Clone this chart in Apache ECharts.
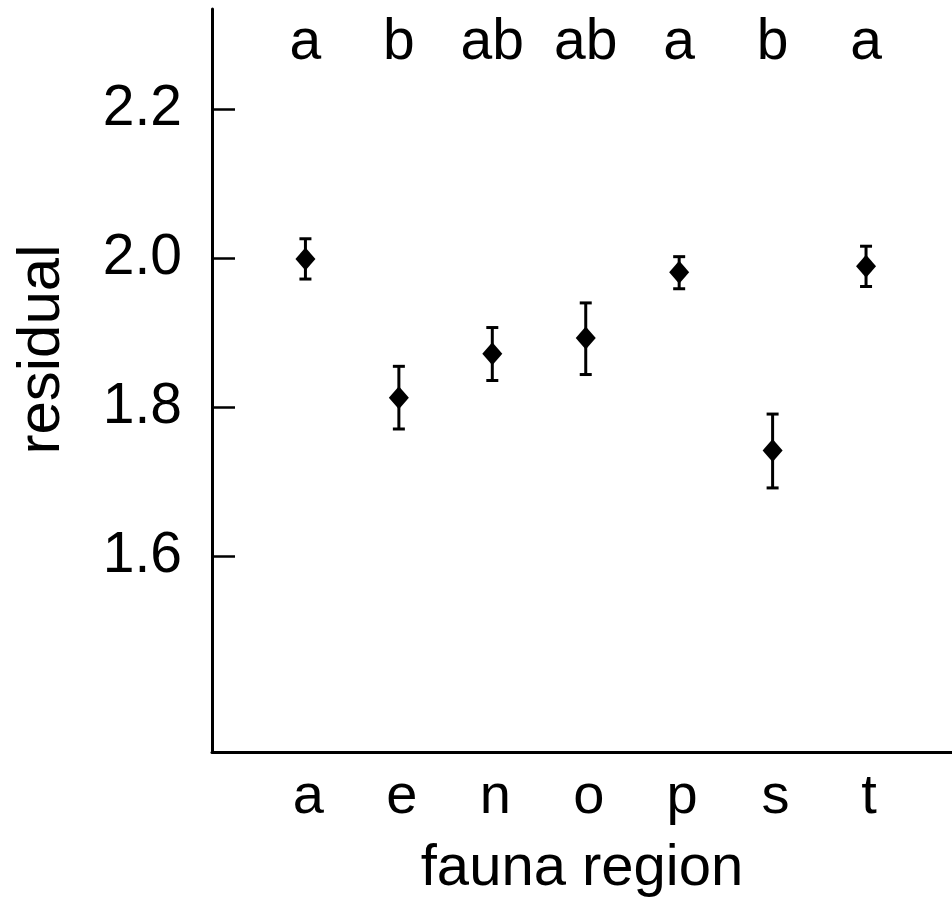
<!DOCTYPE html>
<html>
<head>
<meta charset="utf-8">
<script src="https://cdn.jsdelivr.net/npm/echarts@6/dist/echarts.min.js"></script>
<style>
  html, body { margin: 0; padding: 0; background: #fff; }
  #chart { width: 952px; height: 903px; }
</style>
</head>
<body>
<div id="chart"></div>
<script>
// Residual means per fauna region, with error bars and group letters
const categories   = ['a', 'e', 'n', 'o', 'p', 's', 't'];
const groupLetters = ['a', 'b', 'ab', 'ab', 'a', 'b', 'a'];
const means = [1.999, 1.813, 1.872, 1.893, 1.981, 1.742, 1.989];
const upper = [2.026, 1.855, 1.907, 1.940, 2.002, 1.791, 2.016];
const lower = [1.972, 1.771, 1.836, 1.844, 1.959, 1.692, 1.962];
const yTicks = [1.6, 1.8, 2.0, 2.2];

const FONT = 'Liberation Sans, Arial, sans-serif';
const positions = categories.map((c, i) => i + 1);

const chart = echarts.init(document.getElementById('chart'), null, { renderer: 'canvas' });

chart.setOption({
  animation: false,
  backgroundColor: '#fff',
  grid: { left: 212, right: 0, top: 9, bottom: 151 },
  xAxis: [
    {
      type: 'value',
      position: 'bottom',
      min: 0,
      max: 7.92,
      name: 'fauna region',
      nameLocation: 'middle',
      nameGap: 88,
      nameTextStyle: { fontFamily: FONT, fontSize: 58, color: '#000' },
      axisLine: { show: true, onZero: false, lineStyle: { color: '#000', width: 3 } },
      axisTick: { show: false },
      splitLine: { show: false },
      axisLabel: {
        customValues: positions,
        margin: 18,
        fontFamily: FONT,
        fontSize: 56,
        color: '#000',
        padding: [0, 0, 0, 6],
        formatter: v => categories[Math.round(v) - 1] || ''
      }
    },
    {
      type: 'value',
      position: 'top',
      min: 0,
      max: 7.92,
      axisLine: { show: false },
      axisTick: { show: false },
      splitLine: { show: false },
      axisLabel: {
        customValues: positions,
        inside: true,
        margin: 6,
        fontFamily: FONT,
        fontSize: 57,
        color: '#000',
        formatter: v => groupLetters[Math.round(v) - 1] || ''
      }
    }
  ],
  yAxis: {
    type: 'value',
    min: 1.338,
    max: 2.334,
    name: 'residual',
    nameLocation: 'middle',
    nameGap: 140,
    nameRotate: 90,
    nameTextStyle: { fontFamily: FONT, fontSize: 60, color: '#000', padding: [0, 0, 0, 62] },
    axisLine: { show: true, lineStyle: { color: '#000', width: 3 } },
    axisTick: {
      show: true,
      inside: true,
      length: 23,
      customValues: yTicks,
      lineStyle: { color: '#000', width: 2.5 }
    },
    splitLine: { show: false },
    axisLabel: {
      customValues: yTicks,
      margin: 30,
      fontFamily: FONT,
      fontSize: 57,
      color: '#000',
      formatter: v => v.toFixed(1)
    }
  },
  series: [
    {
      type: 'custom',
      xAxisIndex: 0,
      renderItem: (params, api) => {
        const x = api.value(0);
        const pLo = api.coord([x, api.value(1)]);
        const pHi = api.coord([x, api.value(2)]);
        const cap = 6;
        const style = { stroke: '#000', lineWidth: 3 };
        return {
          type: 'group',
          children: [
            { type: 'line', shape: { x1: pLo[0], y1: pLo[1], x2: pHi[0], y2: pHi[1] }, style },
            { type: 'line', shape: { x1: pHi[0] - cap, y1: pHi[1], x2: pHi[0] + cap, y2: pHi[1] }, style },
            { type: 'line', shape: { x1: pLo[0] - cap, y1: pLo[1], x2: pLo[0] + cap, y2: pLo[1] }, style }
          ]
        };
      },
      encode: { x: 0, y: [1, 2] },
      data: positions.map((p, i) => [p, lower[i], upper[i]]),
      z: 2
    },
    {
      type: 'scatter',
      xAxisIndex: 0,
      symbol: 'diamond',
      symbolSize: [20, 23],
      itemStyle: { color: '#000', opacity: 1 },
      data: positions.map((p, i) => [p, means[i]]),
      z: 3
    }
  ]
});
</script>
</body>
</html>
